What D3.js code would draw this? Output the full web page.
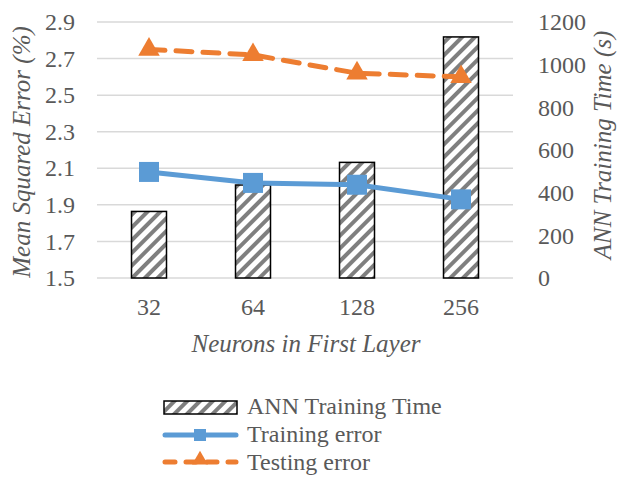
<!DOCTYPE html>
<html>
<head>
<meta charset="utf-8">
<script src="https://cdn.jsdelivr.net/npm/d3@7"></script>
</head>
<body style="margin:0; background:#fff">
<script>
var neurons = ["32", "64", "128", "256"];
var trainTime = [312, 436, 542, 1130];
var trainErr = [2.08, 2.02, 2.01, 1.93];
var testErr = [2.75, 2.72, 2.62, 2.60];
var leftTicks = [1.5, 1.7, 1.9, 2.1, 2.3, 2.5, 2.7, 2.9];
var rightTicks = [0, 200, 400, 600, 800, 1000, 1200];

var width = 622, height = 477;
var plotLeft = 97, plotRight = 513, plotTop = 22, plotBottom = 278;
var serif = "'Liberation Serif'";
var grey = "#595959";

var svg = d3.select("body").append("svg")
	.attr("width", width)
	.attr("height", height);

// hatch pattern for the bars
var defs = svg.append("defs");
var pat = defs.append("pattern")
	.attr("id", "hatch")
	.attr("patternUnits", "userSpaceOnUse")
	.attr("width", 9)
	.attr("height", 9)
	.attr("patternTransform", "rotate(45)");
pat.append("rect").attr("width", 9).attr("height", 9).attr("fill", "#fff");
pat.append("rect").attr("x", 0).attr("width", 4).attr("height", 9).attr("fill", "#7f7f7f");

var x = d3.scaleBand().domain(neurons).range([plotLeft, plotRight]).paddingInner(0).paddingOuter(0);
var yL = d3.scaleLinear().domain([1.5, 2.9]).range([plotBottom, plotTop]);
var yR = d3.scaleLinear().domain([0, 1200]).range([plotBottom, plotTop]);

// gridlines
svg.append("g").selectAll("line")
	.data(leftTicks)
	.enter().append("line")
	.attr("x1", plotLeft).attr("x2", plotRight)
	.attr("y1", function(d){ return yL(d); })
	.attr("y2", function(d){ return yL(d); })
	.attr("stroke", "#d9d9d9")
	.attr("stroke-width", 1.5);

function styleAxis(g){
	g.select(".domain").remove();
	g.attr("font-family", serif).attr("font-size", 24);
	g.selectAll("text")
		.style("font-family", serif)
		.style("font-size", "24px")
		.attr("fill", grey);
}

// left axis
svg.append("g")
	.attr("transform", "translate(" + (plotLeft - 18) + ",0)")
	.call(d3.axisLeft(yL).tickValues(leftTicks).tickFormat(d3.format(".1f")).tickSize(0).tickPadding(4))
	.call(styleAxis);

// right axis
svg.append("g")
	.attr("transform", "translate(" + (plotRight + 21) + ",0)")
	.call(d3.axisRight(yR).tickValues(rightTicks).tickFormat(d3.format("d")).tickSize(0).tickPadding(4))
	.call(styleAxis);

// bottom axis
svg.append("g")
	.attr("transform", "translate(0," + plotBottom + ")")
	.call(d3.axisBottom(x).tickSize(0).tickPadding(20))
	.call(styleAxis);

// bars
var barW = 35;
svg.append("g").selectAll("rect")
	.data(neurons)
	.enter().append("rect")
	.attr("x", function(d){ return x(d) + x.bandwidth() / 2 - barW / 2; })
	.attr("y", function(d, i){ return yR(trainTime[i]); })
	.attr("width", barW)
	.attr("height", function(d, i){ return plotBottom - yR(trainTime[i]); })
	.attr("fill", "url(#hatch)")
	.attr("stroke", "#000")
	.attr("stroke-width", 1.5);

function cx(d){ return x(d) + x.bandwidth() / 2; }

var line = d3.line()
	.x(function(d, i){ return cx(neurons[i]); })
	.y(function(d){ return yL(d); });

// testing error (dashed orange)
svg.append("path")
	.datum(testErr)
	.attr("d", line)
	.attr("fill", "none")
	.attr("stroke", "#ed7d31")
	.attr("stroke-width", 5)
	.attr("stroke-linecap", "round")
	.attr("stroke-dasharray", "16,11");
svg.append("g").selectAll("path")
	.data(testErr)
	.enter().append("path")
	.attr("d", d3.symbol().type(d3.symbolTriangle).size(200))
	.attr("transform", function(d, i){ return "translate(" + cx(neurons[i]) + "," + yL(d) + ")"; })
	.attr("fill", "#ed7d31");

// training error (solid blue)
svg.append("path")
	.datum(trainErr)
	.attr("d", line)
	.attr("fill", "none")
	.attr("stroke", "#5b9bd5")
	.attr("stroke-width", 5);
svg.append("g").selectAll("rect")
	.data(trainErr)
	.enter().append("rect")
	.attr("x", function(d, i){ return cx(neurons[i]) - 10; })
	.attr("y", function(d){ return yL(d) - 10; })
	.attr("width", 20)
	.attr("height", 20)
	.attr("fill", "#5b9bd5");

// axis titles
function title(sel){
	sel.attr("text-anchor", "middle")
		.style("font-family", serif)
		.style("font-size", "25px")
		.style("font-style", "italic")
		.attr("fill", grey);
}
svg.append("text")
	.attr("transform", "translate(30,152) rotate(-90)")
	.call(title)
	.text("Mean Squared Error (%)");
svg.append("text")
	.attr("transform", "translate(611,145) rotate(-90)")
	.call(title)
	.text("ANN Training Time (s)");
svg.append("text")
	.attr("x", 306)
	.attr("y", 352)
	.call(title)
	.text("Neurons in First Layer");

// legend
var lg = svg.append("g");
function legendText(sel){
	sel.style("font-family", serif).style("font-size", "24px").attr("fill", grey);
}
lg.append("rect")
	.attr("x", 164).attr("y", 401).attr("width", 73).attr("height", 13)
	.attr("fill", "url(#hatch)").attr("stroke", "#000").attr("stroke-width", 1.5);
lg.append("text").attr("x", 247).attr("y", 414).call(legendText).text("ANN Training Time");

lg.append("line").attr("x1", 165).attr("x2", 236).attr("y1", 435).attr("y2", 435)
	.attr("stroke", "#5b9bd5").attr("stroke-width", 5).attr("stroke-linecap", "round");
lg.append("rect").attr("x", 194).attr("y", 429).attr("width", 12).attr("height", 12).attr("fill", "#5b9bd5");
lg.append("text").attr("x", 247).attr("y", 442).call(legendText).text("Training error");

lg.append("line").attr("x1", 165).attr("x2", 236).attr("y1", 462).attr("y2", 462)
	.attr("stroke", "#ed7d31").attr("stroke-width", 5).attr("stroke-linecap", "round")
	.attr("stroke-dasharray", "10,11");
lg.append("path").attr("d", d3.symbol().type(d3.symbolTriangle).size(110))
	.attr("transform", "translate(200,460)").attr("fill", "#ed7d31");
lg.append("text").attr("x", 247).attr("y", 470).call(legendText).text("Testing error");
</script>
</body>
</html>
